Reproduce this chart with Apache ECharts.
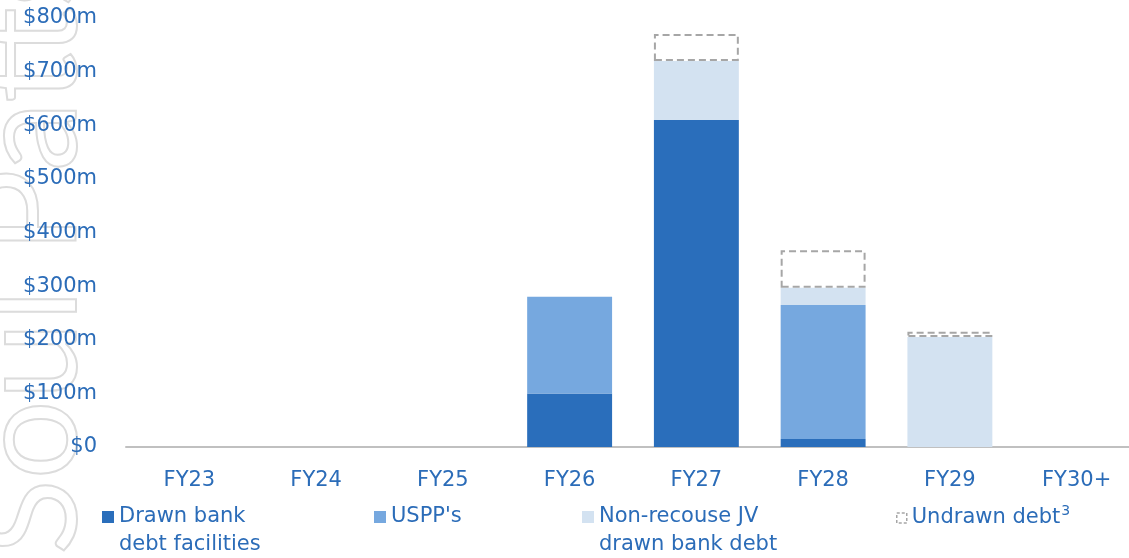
<!DOCTYPE html>
<html>
<head>
<meta charset="utf-8">
<script src="https://cdn.jsdelivr.net/npm/echarts@6/dist/echarts.min.js"></script>
<style>
  html, body { margin: 0; padding: 0; background: #ffffff; }
  #chart { width: 1129px; height: 558px; }
</style>
</head>
<body>
<div id="chart"></div>
<script>
// Debt maturity profile by financial year ($m)
const categories = ['FY23', 'FY24', 'FY25', 'FY26', 'FY27', 'FY28', 'FY29', 'FY30+'];
const drawnBankDebt = [null, null, null, 100, 610, 15, null, null];
const usppDebt      = [null, null, null, 180, null, 250, null, null];
const jvBankDebt    = [null, null, null, null, 110, 32, 205, null];
const undrawnDebt   = [null, null, null, null, 50, 70, 10, null];
const yTicks = { min: 0, max: 800, step: 100 };

const seriesNames = {
  drawn: 'Drawn bank\ndebt facilities',
  uspp: "USPP's",
  jv: 'Non-recouse JV\ndrawn bank debt',
  undrawn: 'Undrawn debt'
};

const BLUE_TEXT = '#2b6cb8';
const FONT = '"DejaVu Sans", sans-serif';
const LINE_H = 28;

const chart = echarts.init(document.getElementById('chart'), null, { renderer: 'canvas' });

const baseText = {
  color: BLUE_TEXT,
  fontFamily: FONT,
  fontSize: 21,
  lineHeight: LINE_H
};

function legendBlock(name, left, top, opts) {
  return Object.assign({
    data: [name],
    left: left,
    top: top,
    orient: 'horizontal',
    padding: 0,
    icon: 'rect',
    itemWidth: 12,
    itemHeight: 12,
    itemGap: 0,
    selectedMode: false,
    textStyle: baseText
  }, opts || {});
}

// a blank first line keeps the legend swatch level with the first text line
function hangFirstLine(n) { return ' \n' + n; }

const option = {
  backgroundColor: '#ffffff',
  animation: false,
  graphic: [{
    type: 'text',
    silent: true,
    z: -10,
    x: 31,
    y: 555,
    rotation: Math.PI / 2,
    style: {
      text: 'Soul Patts',
      fontFamily: 'Lato, Inter, sans-serif',
      fontSize: 140,
      fill: 'rgba(255,255,255,0)',
      stroke: '#dcdcdc',
      lineWidth: 2,
      align: 'left',
      verticalAlign: 'middle'
    }
  }],
  grid: {
    left: 126,
    top: 18,
    width: 1014,
    height: 429,
    outerBoundsMode: 'none',
    containLabel: false
  },
  legend: [
    legendBlock(seriesNames.drawn, 102, 475, { formatter: hangFirstLine }),
    legendBlock(seriesNames.uspp, 374, 503),
    legendBlock(seriesNames.jv, 582, 475, { formatter: hangFirstLine }),
    legendBlock(seriesNames.undrawn, 896, 504, {
      itemWidth: 10,
      itemHeight: 10,
      itemStyle: {
        color: '#ffffff',
        borderColor: '#a6a6a6',
        borderWidth: 1.5,
        borderType: [3, 2]
      },
      formatter: function (n) { return n + '{sup|3}'; },
      textStyle: Object.assign({}, baseText, {
        rich: {
          sup: {
            color: BLUE_TEXT,
            fontFamily: FONT,
            fontSize: 14,
            lineHeight: LINE_H,
            verticalAlign: 'top',
            padding: [0, 0, 10, 1]
          }
        }
      })
    })
  ],
  xAxis: {
    type: 'category',
    data: categories,
    axisTick: { show: false },
    axisLine: { show: true, lineStyle: { color: '#c0c0c0', width: 2 } },
    axisLabel: Object.assign({}, baseText, { margin: 20 })
  },
  yAxis: {
    type: 'value',
    min: yTicks.min,
    max: yTicks.max,
    interval: yTicks.step,
    axisLine: { show: false },
    axisTick: { show: false },
    splitLine: { show: false },
    axisLabel: Object.assign({}, baseText, {
      margin: 29,
      formatter: function (v) { return v === 0 ? '$0' : '$' + v + 'm'; }
    })
  },
  series: [
    {
      name: seriesNames.drawn,
      type: 'bar',
      stack: 'debt',
      barWidth: '67%',
      data: drawnBankDebt,
      itemStyle: { color: '#2a6ebb' }
    },
    {
      name: seriesNames.uspp,
      type: 'bar',
      stack: 'debt',
      data: usppDebt,
      itemStyle: { color: '#76a8df' }
    },
    {
      name: seriesNames.jv,
      type: 'bar',
      stack: 'debt',
      data: jvBankDebt,
      itemStyle: { color: '#d3e2f1' }
    },
    {
      name: seriesNames.undrawn,
      type: 'bar',
      stack: 'debt',
      data: undrawnDebt,
      itemStyle: {
        color: 'rgba(255,255,255,0)',
        borderColor: '#a6a6a6',
        borderWidth: 2,
        borderType: [7, 4]
      }
    }
  ]
};

chart.setOption(option);
</script>
</body>
</html>
